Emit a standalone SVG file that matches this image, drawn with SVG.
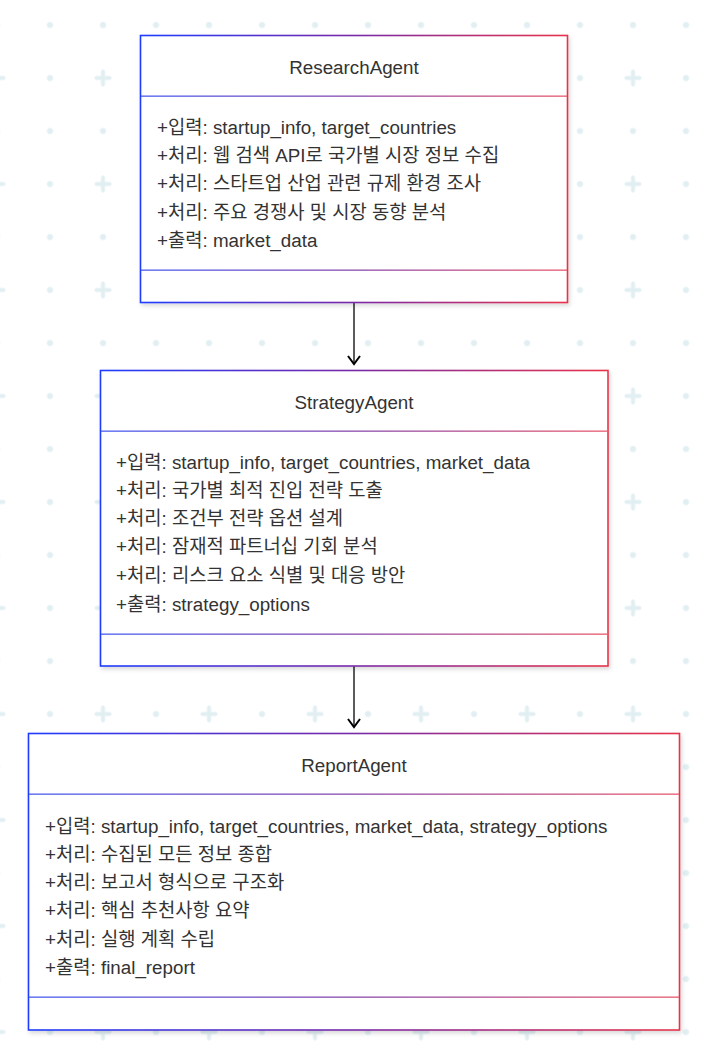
<svg xmlns="http://www.w3.org/2000/svg" width="702" height="1056" viewBox="0 0 702 1056">
<style>
  .t{font-family:"Liberation Sans",Arial,"Noto Sans CJK KR",sans-serif;font-size:18.8px;fill:#333333}
  .title{text-anchor:middle}
  .box{fill:#ffffff;stroke-width:1.6}
  .conn{stroke:#333333;stroke-width:1.6;fill:none}
</style>
<defs>
  <pattern id="bg" patternUnits="userSpaceOnUse" x="23.5" y="-1.5" width="106" height="106">
    <circle cx="26.5" cy="26.5" r="3.1" fill="#e1eff3"/>
    <circle cx="79.5" cy="26.5" r="3.1" fill="#e1eff3"/>
    <circle cx="26.5" cy="79.5" r="3.1" fill="#e1eff3"/>
    <path d="M73 79.5h13M79.5 73v13" stroke="#e1eff3" stroke-width="4" stroke-linecap="round"/>
  </pattern>
  <linearGradient id="g" x1="0" y1="0" x2="1" y2="0">
    <stop offset="0" stop-color="#1f3dff"/>
    <stop offset="0.5" stop-color="#7a2aa8"/>
    <stop offset="1" stop-color="#e8334a"/>
  </linearGradient>
  <linearGradient id="gl" x1="0" y1="0" x2="1" y2="0">
    <stop offset="0" stop-color="#4a5ef0"/>
    <stop offset="0.5" stop-color="#8a4aae"/>
    <stop offset="1" stop-color="#e85a6e"/>
  </linearGradient>
  <filter id="sh" x="-5%" y="-5%" width="110%" height="115%">
    <feDropShadow dx="1.5" dy="2.5" stdDeviation="2" flood-color="#000000" flood-opacity="0.15"/>
  </filter>
  <marker id="arr" markerWidth="20" markerHeight="20" refX="10" refY="10" orient="auto" markerUnits="userSpaceOnUse">
    <path d="M2 4 L10 10 L2 16" fill="none" stroke="#000000" stroke-width="2"/>
  </marker>
</defs>
<rect width="702" height="1056" fill="#ffffff"/>
<rect width="702" height="1056" fill="url(#bg)"/>

<g id="connectors">
  <line class="conn" x1="354" y1="303" x2="354" y2="364" marker-end="url(#arr)"/>
  <line class="conn" x1="354" y1="666" x2="354" y2="727" marker-end="url(#arr)"/>
</g>

<g id="ResearchAgent">
  <rect class="box" x="140.5" y="35.5" width="427" height="267" stroke="url(#g)" filter="url(#sh)"/>
  <rect x="141" y="95.5" width="426" height="1.3" fill="url(#gl)"/>
  <rect x="141" y="269.5" width="426" height="1.3" fill="url(#gl)"/>
  <text class="t title" x="354" y="74">ResearchAgent</text>
  <text class="t" x="157" y="134">+입력: startup_info, target_countries</text>
  <text class="t" x="157" y="162">+처리: 웹 검색 API로 국가별 시장 정보 수집</text>
  <text class="t" x="157" y="190">+처리: 스타트업 산업 관련 규제 환경 조사</text>
  <text class="t" x="157" y="219">+처리: 주요 경쟁사 및 시장 동향 분석</text>
  <text class="t" x="157" y="247">+출력: market_data</text>
</g>

<g id="StrategyAgent">
  <rect class="box" x="100.5" y="370.5" width="507.5" height="295.5" stroke="url(#g)" filter="url(#sh)"/>
  <rect x="101" y="430.5" width="507" height="1.3" fill="url(#gl)"/>
  <rect x="101" y="633.5" width="507" height="1.3" fill="url(#gl)"/>
  <text class="t title" x="354" y="409">StrategyAgent</text>
  <text class="t" x="116" y="469">+입력: startup_info, target_countries, market_data</text>
  <text class="t" x="116" y="497">+처리: 국가별 최적 진입 전략 도출</text>
  <text class="t" x="116" y="525">+처리: 조건부 전략 옵션 설계</text>
  <text class="t" x="116" y="553">+처리: 잠재적 파트너십 기회 분석</text>
  <text class="t" x="116" y="582">+처리: 리스크 요소 식별 및 대응 방안</text>
  <text class="t" x="116" y="611">+출력: strategy_options</text>
</g>

<g id="ReportAgent">
  <rect class="box" x="28.5" y="733.5" width="651" height="296.5" stroke="url(#g)" filter="url(#sh)"/>
  <rect x="29" y="793.5" width="650" height="1.3" fill="url(#gl)"/>
  <rect x="29" y="996.5" width="650" height="1.3" fill="url(#gl)"/>
  <text class="t title" x="354" y="772">ReportAgent</text>
  <text class="t" x="45" y="833">+입력: startup_info, target_countries, market_data, strategy_options</text>
  <text class="t" x="45" y="861">+처리: 수집된 모든 정보 종합</text>
  <text class="t" x="45" y="889">+처리: 보고서 형식으로 구조화</text>
  <text class="t" x="45" y="917">+처리: 핵심 추천사항 요약</text>
  <text class="t" x="45" y="946">+처리: 실행 계획 수립</text>
  <text class="t" x="45" y="974">+출력: final_report</text>
</g>
</svg>
